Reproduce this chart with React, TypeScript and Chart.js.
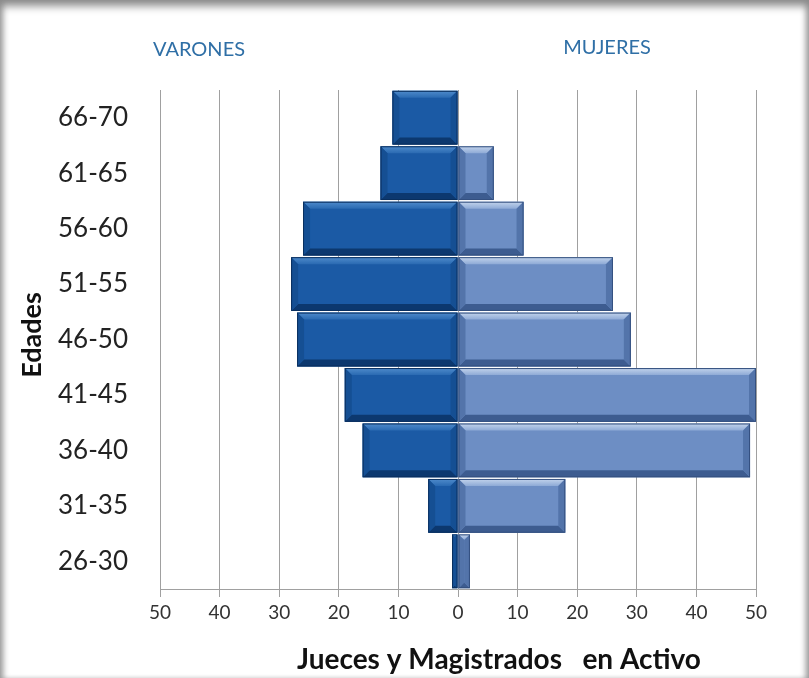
import React, { useEffect, useRef } from "react";
import { Chart, registerables } from "chart.js";

Chart.register(...registerables);

const ageGroups = ["66-70", "61-65", "56-60", "51-55", "46-50", "41-45", "36-40", "31-35", "26-30"];
const varones = [11, 13, 26, 28, 27, 19, 16, 5, 1];
const mujeres = [0, 6, 11, 26, 29, 50, 49, 18, 2];
const xTickValues = [-50, -40, -30, -20, -10, 0, 10, 20, 30, 40, 50];

const FONT = "Lato, 'Open Sans', sans-serif";

const bevelStyles = [
  { top: "#4f8bcb", topIn: "#2a6ab2", bottom: "#0c386f", side: "#154f93", edge: "#0a2f5e" },
  { top: "#c3d4ec", topIn: "#8eaad6", bottom: "#3d5c90", side: "#5374aa", edge: "#34507f" },
];

const bevelPlugin = {
  id: "bevel",
  afterDatasetsDraw(chart: any) {
    const { ctx } = chart;
    const b = 7;
    chart.data.datasets.forEach((_: any, di: number) => {
      const meta = chart.getDatasetMeta(di);
      const st = bevelStyles[di];
      meta.data.forEach((el: any) => {
        const p = el.getProps(["x", "y", "base", "height"], true);
        const l = Math.min(p.x, p.base);
        const r = Math.max(p.x, p.base);
        const t = p.y - p.height / 2;
        const bt = p.y + p.height / 2;
        const w = r - l;
        if (w < 0.5) return;
        const bb = Math.min(b, w / 2, p.height / 2);
        ctx.save();
        // top bevel
        const g = ctx.createLinearGradient(0, t, 0, t + bb);
        g.addColorStop(0, st.top);
        g.addColorStop(1, st.topIn);
        ctx.fillStyle = g;
        ctx.beginPath();
        ctx.moveTo(l, t);
        ctx.lineTo(r, t);
        ctx.lineTo(r - bb, t + bb);
        ctx.lineTo(l + bb, t + bb);
        ctx.closePath();
        ctx.fill();
        // bottom bevel
        ctx.fillStyle = st.bottom;
        ctx.beginPath();
        ctx.moveTo(l, bt);
        ctx.lineTo(r, bt);
        ctx.lineTo(r - bb, bt - bb);
        ctx.lineTo(l + bb, bt - bb);
        ctx.closePath();
        ctx.fill();
        // sides
        ctx.fillStyle = st.side;
        ctx.beginPath();
        ctx.moveTo(l, t);
        ctx.lineTo(l + bb, t + bb);
        ctx.lineTo(l + bb, bt - bb);
        ctx.lineTo(l, bt);
        ctx.closePath();
        ctx.fill();
        ctx.beginPath();
        ctx.moveTo(r, t);
        ctx.lineTo(r - bb, t + bb);
        ctx.lineTo(r - bb, bt - bb);
        ctx.lineTo(r, bt);
        ctx.closePath();
        ctx.fill();
        ctx.strokeStyle = st.edge;
        ctx.lineWidth = 1;
        ctx.strokeRect(l + 0.5, t + 0.5, w - 1, p.height - 1);
        ctx.restore();
      });
    });
  },
};

const textPlugin = {
  id: "extraTexts",
  afterDraw(chart: any) {
    const { ctx } = chart;
    ctx.save();
    ctx.fillStyle = "#2f6fa6";
    ctx.font = `20px ${FONT}`;
    ctx.textAlign = "center";
    ctx.textBaseline = "middle";
    ctx.fillText("VARONES", 199, 50);
    ctx.fillText("MUJERES", 607, 48);
    ctx.fillStyle = "#111";
    ctx.font = `bold 28px ${FONT}`;
    ctx.fillText("Jueces y Magistrados   en Activo", 499, 660);
    ctx.translate(32, 335);
    ctx.rotate(-Math.PI / 2);
    ctx.font = `bold 27px ${FONT}`;
    ctx.fillText("Edades", 0, 0);
    ctx.restore();
  },
};

export default function App() {
  const ref = useRef<HTMLCanvasElement>(null);
  useEffect(() => {
    if (!ref.current) return;
    const chart = new Chart(ref.current, {
      type: "bar",
      data: {
        labels: ageGroups,
        datasets: [
          {
            label: "Varones",
            data: varones.map((v) => -v),
            backgroundColor: "#1b5aa5",
            borderWidth: 0,
            barPercentage: 0.97,
            categoryPercentage: 1,
          },
          {
            label: "Mujeres",
            data: mujeres,
            backgroundColor: "#6d8ec4",
            borderWidth: 0,
            barPercentage: 0.97,
            categoryPercentage: 1,
          },
        ],
      },
      options: {
        indexAxis: "y",
        animation: false,
        responsive: false,
        maintainAspectRatio: false,
        layout: { padding: { left: 0, right: 53, top: 90, bottom: 0 } },
        plugins: { legend: { display: false }, tooltip: { enabled: false } },
        scales: {
          x: {
            stacked: true,
            min: -50,
            max: 50,
            afterBuildTicks: (scale: any) => {
              scale.ticks = xTickValues.map((v) => ({ value: v }));
            },
            afterFit: (scale: any) => {
              scale.height = 89;
            },
            ticks: {
              callback: (v: any) => String(Math.abs(Number(v))),
              color: "#333",
              font: { family: FONT, size: 19 },
              padding: 4,
              maxRotation: 0,
            },
            grid: { color: "#a0a0a0", lineWidth: 1, tickLength: 8, drawOnChartArea: true },
            border: { display: true, color: "#a0a0a0" },
          },
          y: {
            stacked: true,
            afterFit: (scale: any) => {
              scale.width = 160;
            },
            ticks: {
              color: "#222",
              font: { family: FONT, size: 26 },
              padding: 24,
            },
            grid: { display: false },
            border: { display: true, color: "#a0a0a0" },
          },
        },
      },
      plugins: [bevelPlugin, textPlugin],
    });
    return () => chart.destroy();
  }, []);
  return (
    <div
      style={{
        position: "fixed",
        left: 0,
        top: 0,
        width: 809,
        height: 678,
        background: "#fff",
        boxShadow:
          "inset 0 10px 8px -4px #8a8a8a, inset 6px 0 6px -3px #9a9a9a, inset -6px 0 6px -3px #9a9a9a",
      }}
    >
      <canvas ref={ref} width={809} height={678} style={{ position: "absolute", left: 0, top: 0 }} />
    </div>
  );
}
